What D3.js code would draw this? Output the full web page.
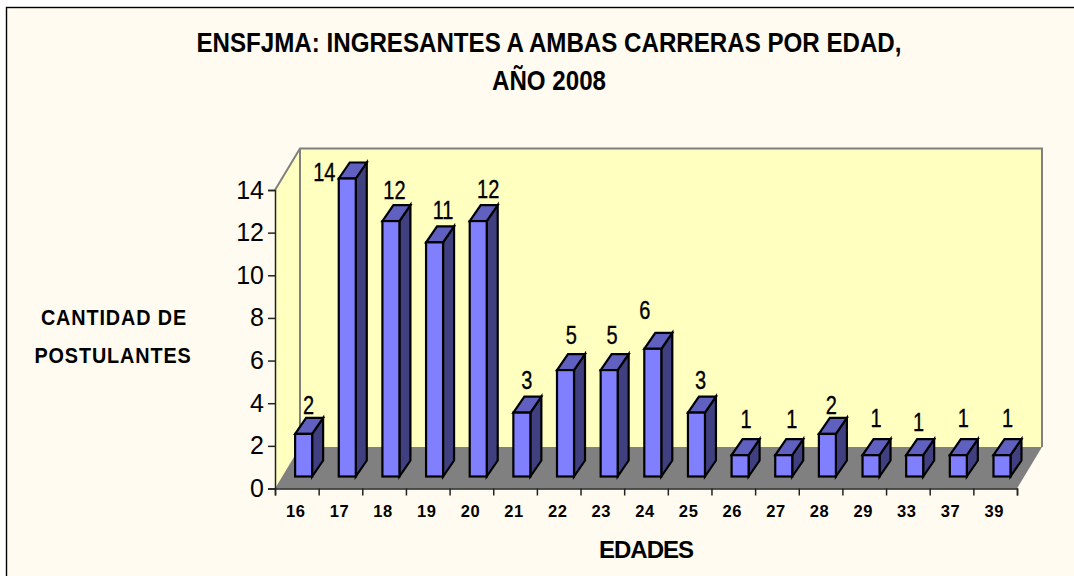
<!DOCTYPE html>
<html><head><meta charset="utf-8">
<script src="https://cdn.jsdelivr.net/npm/d3@7/dist/d3.min.js"></script>
<style>
html,body{margin:0;padding:0;background:#fff}
svg{display:block}
text{fill:#000;font-family:"Liberation Sans",Arial,sans-serif}
</style></head><body>
<svg id="c" width="1074" height="576"></svg>
<script>
const edades = ["16","17","18","19","20","21","22","23","24","25","26","27","28","29","33","37","39"];
const ingresantes = [2,14,12,11,12,3,5,5,6,3,1,1,2,1,1,1,1];
const yTicks = [0,2,4,6,8,10,12,14];
const titleLines = ["ENSFJMA: INGRESANTES A AMBAS CARRERAS POR EDAD,","AÑO 2008"];
const yTitleLines = ["CANTIDAD DE","POSTULANTES"];
const xTitle = "EDADES";

const svg = d3.select("#c");
const L=275,R=1017,B=488.5,T=190,dx=25,dy=-41.5,bdx=11,bdy=-16,base=476.5;
const x = d3.scaleBand().domain(edades).range([L,R]);
const y = d3.scaleLinear().domain([0,14]).range([B,T]);
const hScale = d3.scaleLinear().domain([0,14]).range([0,298]);
const bw = 17, shift = 6.8;
// hand-placed label offsets of the original chart, relative to the bar
const labelDx = [5,-23,3.5,8.5,10,5,5.7,3,-8,4,6,8,4,5,4,5,5.5];
const labelDy = [-4,18,-6,-7,-7,-8,-10,-10,-14,-8,-11,-11,-4,-12,-8,-12,-12];

svg.append("rect").attr("x",6.5).attr("y",7.5).attr("width",1080).attr("height",600)
  .attr("fill","#FFFBF0").attr("stroke","#000").attr("stroke-width",1.4);

const pts = a=>a.map(p=>p.join(",")).join(" ");
svg.append("polygon").attr("points",pts([[L,T],[L+dx,T+dy],[L+dx,B+dy],[L,B]])).attr("fill","#FFFFC0");
svg.append("polygon").attr("points",pts([[L+dx,T+dy],[R+dx,T+dy],[R+dx,B+dy],[L+dx,B+dy]])).attr("fill","#FFFFC0");
svg.append("polyline").attr("points",pts([[L,T],[L+dx,T+dy],[R+dx,T+dy],[R+dx,B+dy]]))
  .attr("fill","none").attr("stroke","#808080").attr("stroke-width",2);
svg.append("line").attr("x1",L+dx).attr("x2",L+dx).attr("y1",T+dy).attr("y2",B+dy)
  .attr("stroke","#808080").attr("stroke-width",2);
svg.append("polygon").attr("points",pts([[L,B],[L+dx,B+dy],[R+dx,B+dy],[R,B]])).attr("fill","#808080");

const yAxis = d3.axisLeft(y).tickValues(yTicks).tickSize(7).tickPadding(4);
const gy = svg.append("g").attr("transform",`translate(${L},0)`).call(yAxis);
gy.selectAll("text").attr("font-size",25).style("font-family",'"Liberation Sans",Arial,sans-serif').attr("fill","#111");
const xTickScale = d3.scalePoint().domain(d3.range(edades.length+1)).range([L,R]);
const xAxis = d3.axisBottom(xTickScale).tickSize(7).tickFormat("");
const gx = svg.append("g").attr("transform",`translate(0,${B})`).call(xAxis);
[gy,gx].forEach(g=>{g.selectAll("path,line").attr("stroke","#222").attr("stroke-width",1.5);});

svg.append("g").selectAll("text").data(edades).join("text")
  .attr("x",d=>x(d)+x.bandwidth()/2-1).attr("y",517).attr("text-anchor","middle")
  .attr("font-size",16.5).attr("font-weight","bold").attr("letter-spacing",0.6).text(d=>d);

const g = svg.append("g").attr("stroke","#000").attr("stroke-width",2.2).attr("stroke-linejoin","miter");
edades.forEach((e,i)=>{
  const x0 = x(e)+x.bandwidth()/2+shift-bw/2, x1 = x0+bw;
  const yt = base-hScale(ingresantes[i]);
  g.append("polygon").attr("points",pts([[x1,yt],[x1+bdx,yt+bdy],[x1+bdx,base+bdy],[x1,base]])).attr("fill","#404080");
  g.append("polygon").attr("points",pts([[x0,yt],[x0+bdx,yt+bdy],[x1+bdx,yt+bdy],[x1,yt]])).attr("fill","#6060C0");
  g.append("rect").attr("x",x0).attr("y",yt).attr("width",bw).attr("height",base-yt).attr("fill","#8080FF");
});

// horizontally condensed text, since no narrow face is installed
const place = (sel,fx,fy,sx)=>sel.attr("text-anchor","middle")
  .attr("transform",(d,i)=>`translate(${fx(d,i)},${fy(d,i)}) scale(${sx},1)`);

place(svg.append("g").selectAll("text").data(edades).join("text")
  .attr("font-size",25).attr("stroke","#000").attr("stroke-width",0.35).text((d,i)=>ingresantes[i]),
  (d,i)=>x(d)+x.bandwidth()/2+shift+labelDx[i],
  (d,i)=>base-hScale(ingresantes[i])+bdy+labelDy[i], 0.8);

place(svg.append("g").selectAll("text").data(titleLines).join("text")
  .attr("font-size",28).attr("font-weight","bold").text(d=>d),
  ()=>549,(d,i)=>51.5+i*38.5,0.862);

place(svg.append("g").selectAll("text").data(yTitleLines).join("text")
  .attr("font-size",22).attr("font-weight","bold").attr("letter-spacing",1).text(d=>d),
  (d,i)=>114-i,(d,i)=>325+i*38,0.9);

svg.append("text").attr("x",646).attr("y",558).attr("text-anchor","middle")
  .attr("font-size",24).attr("font-weight","bold").attr("letter-spacing",-1).text(xTitle);
</script></body></html>
